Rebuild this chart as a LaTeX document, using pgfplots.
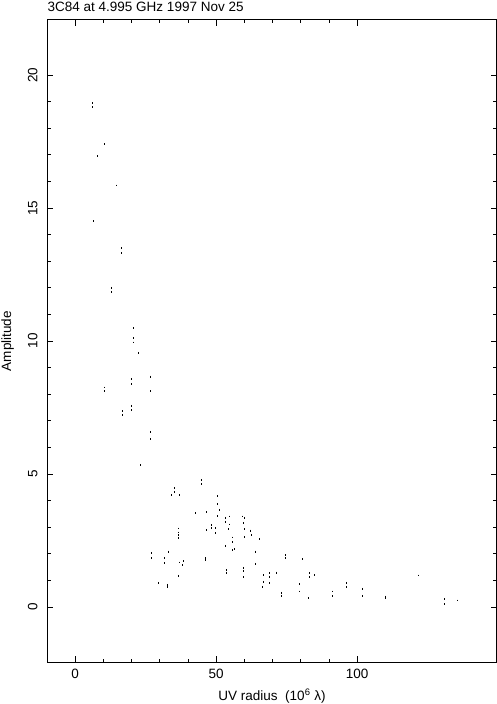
\documentclass[border=0pt]{standalone}
\usepackage{pgfplots}
\pgfplotsset{compat=1.18}
\usepackage{fontspec}
\setmainfont{Liberation Sans}
\newcommand\f{\fontsize{13.5}{16}\selectfont}
\begin{document}
\begin{tikzpicture}
\begin{axis}[
  scale only axis,
  width=449pt, height=642pt,
  xmin=-9.8, xmax=149.4,
  ymin=-2.07, ymax=22.07,
  xtick={0,50,100}, ytick={0,5,10,15,20},
  minor x tick num=4, minor y tick num=4,
  tick align=inside,
  tick pos=both,
  major tick length=6pt, minor tick length=3.5pt,
  every tick/.style={black, line width=0.8pt},
  axis line style={line width=1pt},
  /pgf/number format/assume math mode=true,
  tick label style={font=\f},
  xticklabel style={anchor=base},
  xticklabel shift=16pt,
  yticklabel style={rotate=90, anchor=base},
  yticklabel shift=10pt,
  xlabel={UV radius\ \ (10\textsuperscript{6} λ)},
  ylabel={Amplitude},
  label style={font=\f},
  xlabel style={at={(axis description cs:0.5,-0.0607)}, anchor=base},
  ylabel style={at={(axis description cs:-0.0812,0.5)}, anchor=base, rotate=0},
  clip=false,
]
\addplot[only marks, mark=|, mark size=0.9pt, mark options={line width=0.9pt, black}] table {
x y
6.1 18.95
6.1 18.8
10.4 17.4
8.0 16.95
14.7 15.85
6.6 14.5
16.5 13.5
16.5 13.3
12.9 12.0
12.9 11.85
20.7 10.48
20.7 10.1
20.7 9.94
22.5 9.56
20.0 8.56
20.0 8.37
26.8 8.66
10.5 8.25
10.5 8.12
26.8 8.12
20.0 7.56
20.0 7.4
16.8 7.37
16.8 7.22
26.8 6.59
26.8 6.3
23.2 5.33
44.8 4.77
44.8 4.62
35.2 4.47
35.2 4.32
34.3 4.21
37.0 4.21
50.5 4.17
50.5 3.87
51.2 3.65
42.7 3.52
46.6 3.56
50.5 3.42
53.4 3.35
53.4 3.2
54.6 3.4
54.6 3.1
59.3 3.4
60.0 3.35
59.7 3.15
48.5 3.08
48.5 2.97
49.6 2.97
49.6 2.78
46.6 2.88
54.4 2.92
36.7 2.95
36.7 2.8
36.7 2.7
36.7 2.6
60.0 2.93
60.0 2.63
62.3 2.87
62.6 2.71
55.8 2.61
65.5 2.55
55.6 2.44
53.2 2.3
55.8 2.14
56.6 2.17
33.1 2.08
63.8 2.08
26.9 2.03
26.9 1.84
31.7 1.84
31.7 1.65
37.0 1.67
38.4 1.73
37.9 1.57
46.2 1.84
46.2 1.77
63.8 1.62
36.8 1.17
53.5 1.39
53.5 1.29
59.7 1.47
59.7 1.35
59.7 1.12
29.6 0.91
32.8 0.83
32.8 0.75
74.4 1.95
74.4 1.83
80.5 1.8
66.7 1.2
66.7 0.95
66.4 0.76
68.9 1.28
68.9 1.14
71.5 1.29
68.9 0.89
73.2 0.53
73.2 0.41
79.7 0.86
79.7 0.58
83.0 1.28
83.0 1.13
85.0 1.2
82.7 0.33
91.2 0.58
91.2 0.41
96.2 0.91
96.2 0.74
101.8 0.68
101.8 0.42
110.2 0.39
110.2 0.33
121.8 1.18
130.8 0.29
130.8 0.11
135.7 0.24
};
\coordinate (sw) at (rel axis cs:0,0);
\coordinate (ne) at (rel axis cs:1,1);
\end{axis}
\node[anchor=base west, font=\f, inner sep=0pt] at ([yshift=8pt]sw |- ne) {3C84 at 4.995 GHz 1997 Nov 25};
\pgfresetboundingbox
\path[use as bounding box] ([shift={(-47.5pt,-42pt)}]sw) rectangle ([shift={(0.5pt,20pt)}]ne);
\end{tikzpicture}
\end{document}
